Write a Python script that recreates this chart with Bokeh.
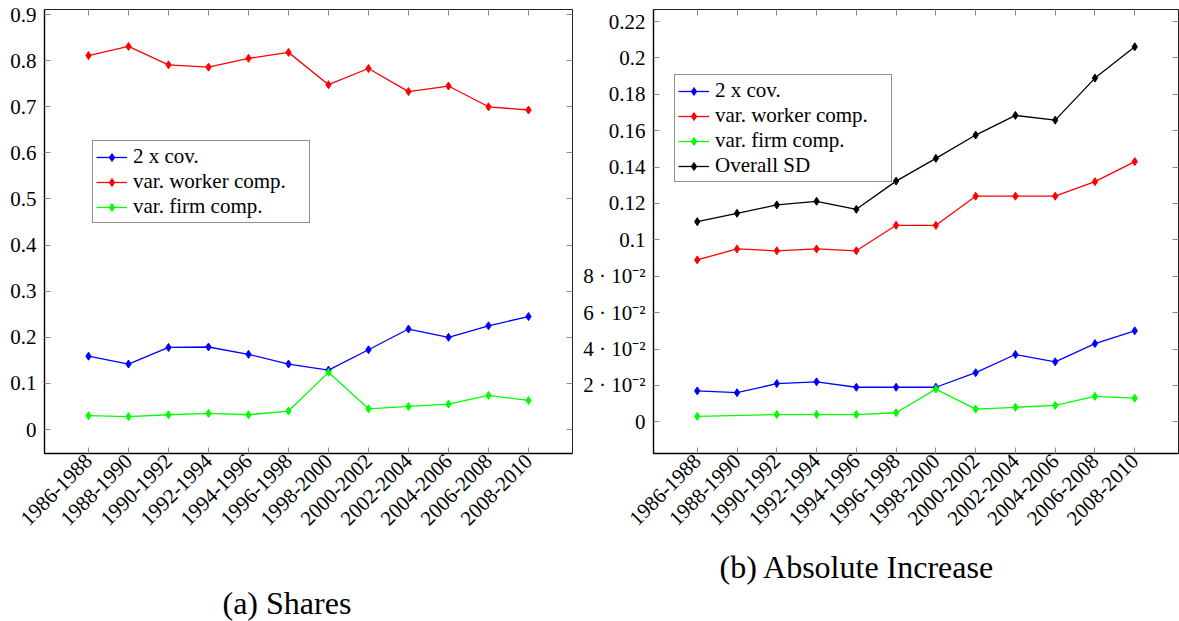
from bokeh.plotting import figure
from bokeh.models import (FactorRange, Range1d, LinearAxis, CategoricalAxis, FixedTicker,
                          Legend, LegendItem, Title)
from bokeh.layouts import row
from bokeh.embed import file_html
from bokeh.resources import INLINE

# ---------------- data ----------------
periods = ["1986-1988", "1988-1990", "1990-1992", "1992-1994", "1994-1996", "1996-1998",
           "1998-2000", "2000-2002", "2002-2004", "2004-2006", "2006-2008", "2008-2010"]

# (a) Shares
share_cov = [0.159, 0.142, 0.178, 0.179, 0.163, 0.142, 0.129, 0.173, 0.218, 0.200, 0.225, 0.245]
share_worker = [0.811, 0.831, 0.791, 0.786, 0.805, 0.818, 0.748, 0.783, 0.733, 0.745, 0.700, 0.693]
share_firm = [0.030, 0.028, 0.032, 0.035, 0.032, 0.040, 0.124, 0.045, 0.050, 0.055, 0.074, 0.063]

# (b) Absolute Increase
inc_cov = [0.017, 0.016, 0.021, 0.022, 0.019, 0.019, 0.019, 0.027, 0.037, 0.033, 0.043, 0.050]
inc_worker = [0.089, 0.095, 0.094, 0.095, 0.094, 0.108, 0.108, 0.124, 0.124, 0.124, 0.132, 0.143]
inc_firm_periods = ["1986-1988", "1990-1992", "1992-1994", "1994-1996", "1996-1998",
                    "1998-2000", "2000-2002", "2002-2004", "2004-2006", "2006-2008", "2008-2010"]
inc_firm = [0.003, 0.004, 0.004, 0.004, 0.005, 0.018, 0.007, 0.008, 0.009, 0.014, 0.013]
inc_sd = [0.110, 0.1146, 0.1192, 0.1212, 0.1168, 0.1323, 0.1448, 0.1576, 0.1684, 0.1658, 0.1889, 0.2061]

left_ticks = [0.0, 0.1, 0.2, 0.3, 0.4, 0.5, 0.6, 0.7, 0.8, 0.9]
left_tick_labels = ["0", "0.1", "0.2", "0.3", "0.4", "0.5", "0.6", "0.7", "0.8", "0.9"]
right_ticks = [0.0, 0.02, 0.04, 0.06, 0.08, 0.1, 0.12, 0.14, 0.16, 0.18, 0.2, 0.22]
right_tick_labels = ["0", "2 · 10⁻²", "4 · 10⁻²", "6 · 10⁻²", "8 · 10⁻²", "0.1", "0.12",
                     "0.14", "0.16", "0.18", "0.2", "0.22"]

legend_labels_a = ["2 x cov.", "var. worker comp.", "var. firm comp."]
legend_labels_b = ["2 x cov.", "var. worker comp.", "var. firm comp.", "Overall SD"]
captions = ["(a) Shares", "(b) Absolute Increase"]

BLUE, RED, GREEN, BLACK = "#0000ff", "#ff0000", "#00ff00", "#000000"
FONT = "Liberation Serif"
H = 621


def style_axis(ax, show_labels, line=True):
    ax.major_tick_in = 6
    ax.major_tick_out = 0
    ax.minor_tick_in = 0
    ax.minor_tick_out = 0
    ax.major_tick_line_color = "#8c8c8c"
    ax.major_tick_line_width = 1
    if line:
        ax.axis_line_color = "black"
        ax.axis_line_width = 1.4
    else:
        ax.axis_line_color = None
    ax.major_label_text_font = FONT
    ax.major_label_text_font_size = "21px"
    if show_labels:
        ax.major_label_text_color = "black"
    else:
        ax.major_label_text_color = None
        ax.major_label_text_font_size = "0px"
        ax.major_label_standoff = 0


def make_fig(width, bl, br, y0, y1, ticks, tick_labels, caption, cap_offset, spacer):
    p = figure(width=width, height=H,
               x_range=FactorRange(*periods, range_padding=0.6, range_padding_units="absolute"),
               y_range=Range1d(y0, y1),
               output_backend="svg", toolbar_location=None,
               min_border_left=bl, min_border_right=br, min_border_top=9, min_border_bottom=168)
    p.xgrid.visible = False
    p.ygrid.visible = False
    p.outline_line_color = "#222222"
    p.outline_line_width = 1
    p.background_fill_color = "white"
    p.border_fill_color = "white"

    ya = p.yaxis[0]
    ya.ticker = FixedTicker(ticks=ticks)
    ya.major_label_overrides = {t: l for t, l in zip(ticks, tick_labels)}
    style_axis(ya, True)
    ya.major_label_standoff = 8

    xa = p.xaxis[0]
    style_axis(xa, True)
    xa.major_label_orientation = 0.785398
    xa.major_label_standoff = 4
    xa.group_text_font_size = "0px"

    ra = LinearAxis(ticker=FixedTicker(ticks=ticks))
    style_axis(ra, False, line=False)
    p.add_layout(ra, "right")

    ta = CategoricalAxis()
    style_axis(ta, False, line=False)
    p.add_layout(ta, "above")

    # invisible spacer between the tick labels and the caption
    sp = CategoricalAxis()
    style_axis(sp, False, line=False)
    sp.major_tick_in = 0
    sp.major_tick_out = spacer
    sp.major_tick_line_color = None
    p.add_layout(sp, "below")

    t = Title(text=caption, align="left", offset=cap_offset, standoff=0,
              text_font=FONT, text_font_size="32px", text_font_style="normal",
              text_color="black")
    p.add_layout(t, "below")
    return p


def series(p, x, y, color):
    ln = p.line(x=x, y=y, line_color=color, line_width=1.3)
    sc = p.scatter(x=x, y=y, marker="diamond", size=8, fill_color=color, line_color=color)
    return [ln, sc]


def add_legend(p, items, loc):
    lg = Legend(items=items, location=loc, orientation="vertical",
                glyph_width=31, glyph_height=20, label_height=25, spacing=0, padding=3,
                margin=0, label_standoff=6, label_width=173,
                border_line_color="#222222", border_line_width=1,
                background_fill_color="white", background_fill_alpha=1.0,
                label_text_font=FONT, label_text_font_size="21px", label_text_color="black")
    p.add_layout(lg)


# ---------------- (a) Shares ----------------
p1 = make_fig(580, 44, 8, -0.052, 0.911, left_ticks, left_tick_labels, captions[0], 178, 48)
r_cov = series(p1, periods, share_cov, BLUE)
r_wrk = series(p1, periods, share_worker, RED)
r_frm = series(p1, periods, share_firm, GREEN)
add_legend(p1, [LegendItem(label=legend_labels_a[0], renderers=r_cov),
                LegendItem(label=legend_labels_a[1], renderers=r_wrk),
                LegendItem(label=legend_labels_a[2], renderers=r_frm)], (48, 230))

# ---------------- (b) Absolute Increase ----------------
p2 = make_fig(599, 72, 1, -0.0174, 0.2266, right_ticks, right_tick_labels, captions[1], 66, 12)
b_cov = series(p2, periods, inc_cov, BLUE)
b_wrk = series(p2, periods, inc_worker, RED)
b_frm = series(p2, inc_firm_periods, inc_firm, GREEN)
b_sd = series(p2, periods, inc_sd, BLACK)
add_legend(p2, [LegendItem(label=legend_labels_b[0], renderers=b_cov),
                LegendItem(label=legend_labels_b[1], renderers=b_wrk),
                LegendItem(label=legend_labels_b[2], renderers=b_frm),
                LegendItem(label=legend_labels_b[3], renderers=b_sd)], (21, 271))

layout = row(p1, p2)
open("out.html", "w").write(file_html(layout, INLINE))
